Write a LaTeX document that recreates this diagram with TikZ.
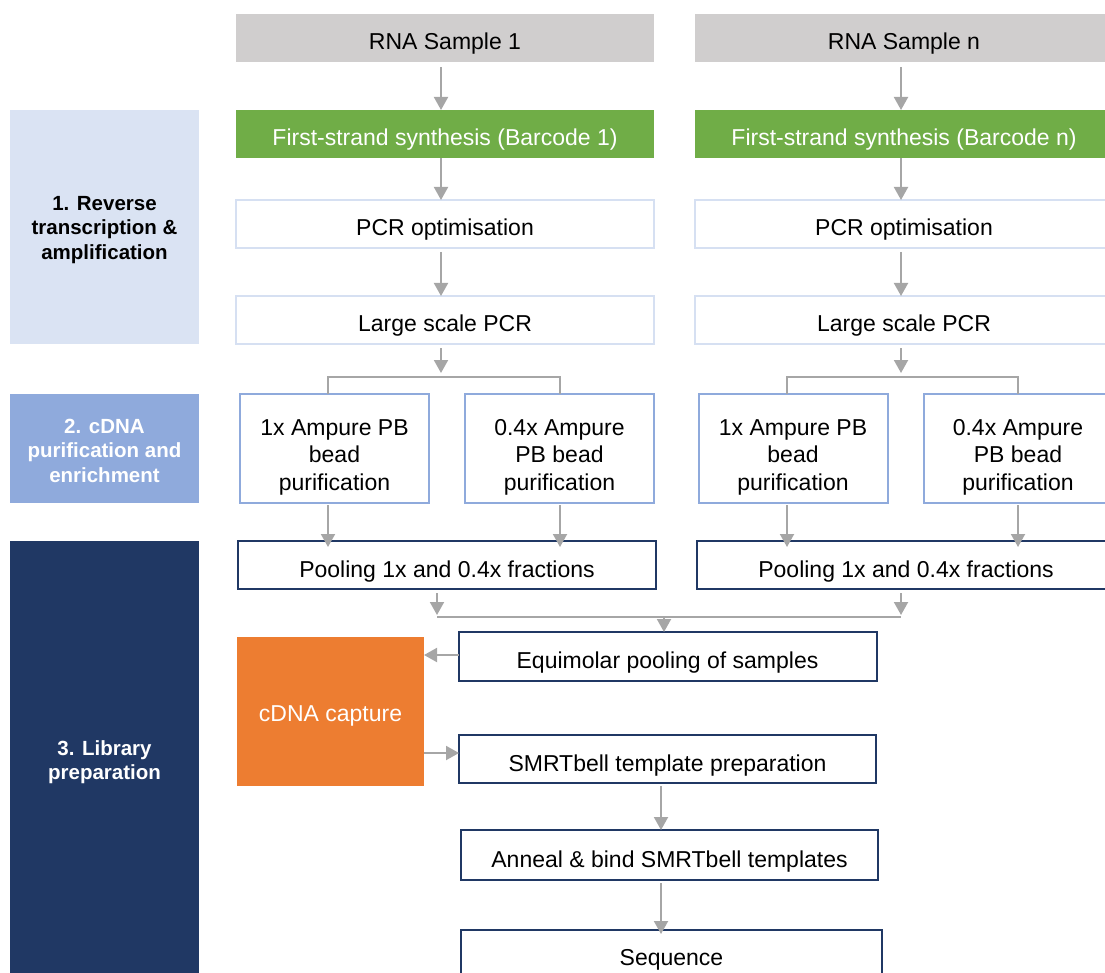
\documentclass[tikz,border=0pt]{standalone}
\usepackage{fontspec}
\setmainfont{Liberation Sans}
\usetikzlibrary{arrows.meta}
\definecolor{grayfill}{HTML}{D0CECE}
\definecolor{greenfill}{HTML}{70AD47}
\definecolor{lblue}{HTML}{DAE3F3}
\definecolor{mblue}{HTML}{8FAADC}
\definecolor{navy}{HTML}{203864}
\definecolor{orangefill}{HTML}{ED7D31}
\definecolor{arrgray}{HTML}{A6A6A6}
\definecolor{pcrborder}{HTML}{D6E0F2}
\tikzset{
  base/.style={inner sep=0pt, outer sep=0pt, align=center, font=\fontsize{23}{27.5}\selectfont},
  one/.style={text height=24pt, text depth=0pt},
  lab/.style={inner sep=0pt, outer sep=0pt, align=center, font=\fontsize{20.5}{24.5}\selectfont\bfseries},
  wide/.style={base, one, minimum width=418pt, minimum height=48pt},
  graybox/.style={wide, fill=grayfill, text=black},
  greenbox/.style={wide, fill=greenfill, text=white},
  pcrbox/.style={wide, draw=pcrborder, line width=2pt, fill=white},
  ampbox/.style={base, draw=mblue, line width=2pt, minimum width=189pt, minimum height=109pt, fill=white, text height=83.4pt, text depth=0pt},
  navybox/.style={base, one, draw=navy, line width=2pt, fill=white},
  arr/.style={draw=arrgray, line width=2pt, -{Triangle[width=14pt,length=13pt]}},
  conn/.style={draw=arrgray, line width=1.6pt},
}
\begin{document}
\begin{tikzpicture}[x=1pt,y=-1pt]
\useasboundingbox (0,0) rectangle (1105,973);
\clip (0,0) rectangle (1105,973);
% stage labels
\node[lab, fill=lblue, minimum width=189pt, minimum height=234pt, text=black, text height=64.8pt, text depth=0pt] (lab1) at (104.5,227) {1. Reverse\\transcription \&\\amplification};
\node[lab, fill=mblue, minimum width=189pt, minimum height=109pt, text=white, text height=67.8pt, text depth=0pt] (lab2) at (104.5,448.5) {2. cDNA\\purification and\\enrichment};
\node[lab, fill=navy, minimum width=189pt, minimum height=439pt, text=white, text height=38.8pt, text depth=0pt] (lab3) at (104.5,760.5) {3. Library\\preparation};
% column 1
\node[graybox] (rna1) at (445,38) {RNA Sample 1};
\node[greenbox] (fs1) at (445,134) {First-strand synthesis (Barcode 1)};
\node[pcrbox] (pcr1) at (445,224) {PCR optimisation};
\node[pcrbox] (lsp1) at (445,320) {Large scale PCR};
\node[ampbox] (aa1) at (334.5,448.5) {1x Ampure PB\\bead\\purification};
\node[ampbox] (ab1) at (559.5,448.5) {0.4x Ampure\\PB bead\\purification};
\node[navybox, minimum width=418pt, minimum height=48pt] (pool1) at (447,565) {Pooling 1x and 0.4x fractions};
% column n
\node[graybox] (rnan) at (904,38) {RNA Sample n};
\node[greenbox] (fsn) at (904,134) {First-strand synthesis (Barcode n)};
\node[pcrbox] (pcrn) at (904,224) {PCR optimisation};
\node[pcrbox] (lspn) at (904,320) {Large scale PCR};
\node[ampbox] (aan) at (793,448.5) {1x Ampure PB\\bead\\purification};
\node[ampbox] (abn) at (1018,448.5) {0.4x Ampure\\PB bead\\purification};
\node[navybox, minimum width=418pt, minimum height=48pt] (pooln) at (906,565) {Pooling 1x and 0.4x fractions};
% lower part
\node[navybox, minimum width=418pt, minimum height=49pt] (equi) at (667.5,656.5) {Equimolar pooling of samples};
\node[base, fill=orangefill, text=white, minimum width=187pt, minimum height=149pt, text height=19pt, text depth=0pt] (cap) at (330.5,711.5) {cDNA capture};
\node[navybox, minimum width=417pt, minimum height=48pt] (smrt) at (667.5,759) {SMRTbell template preparation};
\node[navybox, minimum width=417pt, minimum height=50pt] (anneal) at (669.5,855) {Anneal \& bind SMRTbell templates};
\node[navybox, minimum width=421pt, minimum height=60pt, text height=10pt, text depth=0pt] (seq) at (671.5,960) {Sequence};
% helper coordinates
\coordinate (c1) at (441,0);
\coordinate (cn) at (901,0);
\coordinate (s1a) at (328,377);
\coordinate (s1b) at (560,377);
\coordinate (sna) at (787,377);
\coordinate (snb) at (1018,377);
\coordinate (mA) at (437,617);
\coordinate (mB) at (901,617);
\coordinate (mC) at (664,617);
\coordinate (cl) at (661,0);
\coordinate (yin) at (0,655);
\coordinate (yout) at (0,753);
% column 1 connectors
\draw[arr, shorten <=5pt] (rna1.south -| c1) -- (fs1.north -| c1);
\draw[arr] (fs1.south -| c1) -- (pcr1.north -| c1);
\draw[arr, shorten <=4pt] (pcr1.south -| c1) -- (lsp1.north -| c1);
\draw[arr, shorten <=4pt, shorten >=4pt] (lsp1.south -| c1) -- (c1 |- s1a);
\draw[conn] (aa1.north -| s1a) -- (s1a) -- (s1b) -- (ab1.north -| s1b);
\draw[arr, shorten <=2pt] (aa1.south -| s1a) -- ([yshift=-6pt]pool1.north -| s1a);
\draw[arr, shorten <=2pt] (ab1.south -| s1b) -- ([yshift=-6pt]pool1.north -| s1b);
% column n connectors
\draw[arr, shorten <=5pt] (rnan.south -| cn) -- (fsn.north -| cn);
\draw[arr] (fsn.south -| cn) -- (pcrn.north -| cn);
\draw[arr, shorten <=4pt] (pcrn.south -| cn) -- (lspn.north -| cn);
\draw[arr, shorten <=4pt, shorten >=4pt] (lspn.south -| cn) -- (cn |- sna);
\draw[conn] (aan.north -| sna) -- (sna) -- (snb) -- (abn.north -| snb);
\draw[arr, shorten <=2pt] (aan.south -| sna) -- ([yshift=-6pt]pooln.north -| sna);
\draw[arr, shorten <=2pt] (abn.south -| snb) -- ([yshift=-6pt]pooln.north -| snb);
% merge
\draw[arr, shorten <=4pt, shorten >=2pt] (pool1.south -| mA) -- (mA);
\draw[arr, shorten <=4pt, shorten >=2pt] (pooln.south -| mB) -- (mB);
\draw[conn] (mA) -- (mB);
\draw[arr] (mC) -- (equi.north -| mC);
\draw[arr] (equi.west |- yin) -- (cap.east |- yin);
\draw[arr] (cap.east |- yout) -- (smrt.west |- yout);
\draw[arr, shorten <=3pt] (smrt.south -| cl) -- (anneal.north -| cl);
\draw[arr, shorten <=3pt] (anneal.south -| cl) -- ([yshift=-4pt]seq.north -| cl);
\end{tikzpicture}
\end{document}
